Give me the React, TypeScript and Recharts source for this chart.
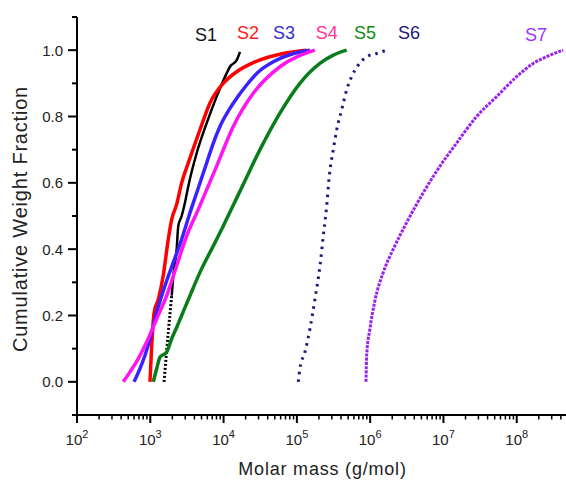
import React from 'react';
import { LineChart, Line, XAxis, YAxis, ReferenceDot } from 'recharts';

const FONT = '"Liberation Sans", Arial, Helvetica, sans-serif';

// S1 (black) – lower part sparse (dotted), upper part solid
const s1Mass = [1540, 1760, 1960, 2060, 2290, 2410, 2680, 2970, 3300, 4300, 5880, 8040, 11000, 12200, 15100, 16750];
const s1Frac = [0, 0.15, 0.26, 0.32, 0.4, 0.47, 0.5, 0.54, 0.59, 0.69, 0.78, 0.86, 0.93, 0.95, 0.97, 0.995];

const s2Mass = [990, 1040, 1130, 1290, 1500, 1760, 1960, 2290, 2680, 3300, 4760, 6500, 9900, 15100, 25200, 64600, 136000];
const s2Frac = [0, 0.1, 0.21, 0.25, 0.32, 0.43, 0.49, 0.535, 0.6, 0.66, 0.76, 0.84, 0.9, 0.935, 0.962, 0.99, 1.0];

const s3Mass = [600, 723, 847, 991, 1223, 1587, 2061, 2680, 3483, 4297, 5877, 7244, 8926, 13560, 20650, 30000, 47700, 90000, 151000];
const s3Frac = [0, 0.04, 0.08, 0.13, 0.21, 0.29, 0.36, 0.43, 0.51, 0.57, 0.66, 0.72, 0.77, 0.84, 0.895, 0.935, 0.965, 0.99, 1.0];

const s4Mass = [428, 529, 686, 893, 1223, 1674, 2291, 3139, 4520, 8035, 13560, 25400, 58700, 176000];
const s4Frac = [0, 0.03, 0.07, 0.12, 0.19, 0.26, 0.35, 0.44, 0.52, 0.65, 0.77, 0.87, 0.95, 1.0];

const s5Mass = [1099, 1223, 1355, 1674, 1958, 2291, 2680, 3483, 4760, 7244, 9910, 16750, 31400, 58700, 110000, 206000, 314000, 478000];
const s5Frac = [0, 0.04, 0.074, 0.09, 0.13, 0.164, 0.2, 0.26, 0.33, 0.41, 0.47, 0.575, 0.7, 0.81, 0.9, 0.96, 0.985, 1.0];

const s6Mass = [104500, 110000, 128900, 150900, 176600, 206700, 229300, 255100, 276700, 314000, 349300, 408600, 478000, 558700, 688000, 896000, 1227000, 1680000];
const s6Frac = [0, 0.04, 0.09, 0.16, 0.25, 0.35, 0.44, 0.53, 0.62, 0.7, 0.76, 0.82, 0.88, 0.92, 0.955, 0.98, 0.99, 1.0];

const s7Mass = [877000, 896000, 993000, 1162000, 1509000, 2066000, 3143000, 5295000, 8950000, 15130000, 28360000, 53170000, 99700000, 168000000, 283600000, 430600000];
const s7Frac = [0, 0.08, 0.16, 0.245, 0.33, 0.4, 0.48, 0.57, 0.65, 0.72, 0.8, 0.86, 0.92, 0.96, 0.985, 1.0];

const seriesNames = ['S1', 'S2', 'S3', 'S4', 'S5', 'S6', 'S7'];
const labelMass = [5750, 21500, 66700, 255000, 849000, 3380000, 183000000];
const labelFrac = [1.046, 1.052, 1.052, 1.052, 1.052, 1.052, 1.048];
const labelColors = ['#111111', '#ff1a1a', '#3030d0', '#ff3399', '#108a10', '#202080', '#9933ff'];

const xTicks = [100, 200, 300, 400, 500, 600, 700, 800, 900,
  1e3, 2e3, 3e3, 4e3, 5e3, 6e3, 7e3, 8e3, 9e3,
  1e4, 2e4, 3e4, 4e4, 5e4, 6e4, 7e4, 8e4, 9e4,
  1e5, 2e5, 3e5, 4e5, 5e5, 6e5, 7e5, 8e5, 9e5,
  1e6, 2e6, 3e6, 4e6, 5e6, 6e6, 7e6, 8e6, 9e6,
  1e7, 2e7, 3e7, 4e7, 5e7, 6e7, 7e7, 8e7, 9e7,
  1e8, 2e8, 3e8, 4e8];
const yTicks = [-0.1, 0, 0.1, 0.2, 0.3, 0.4, 0.5, 0.6, 0.7, 0.8, 0.9, 1.0, 1.1];

const toPoints = (m: number[], f: number[]) => m.map((v, i) => ({ m: v, f: f[i] }));

const s1Low = toPoints(s1Mass.slice(0, 3), s1Frac.slice(0, 3));
const s1High = toPoints(s1Mass.slice(2), s1Frac.slice(2));

const XTick = (props: any) => {
  const { x, y, payload } = props;
  const v = payload.value as number;
  const e = Math.log10(v);
  const major = Math.abs(e - Math.round(e)) < 1e-6;
  return (
    <g>
      <line x1={x} x2={x} y1={y} y2={y + (major ? 8 : 4.5)} stroke="#000" strokeWidth={major ? 2 : 1.5} />
      {major && (
        <text x={x} y={y + 30} textAnchor="middle" fontSize={15} fontFamily={FONT} fill="#222">
          10<tspan dy={-7} fontSize={11}>{Math.round(e)}</tspan>
        </text>
      )}
    </g>
  );
};

const YTick = (props: any) => {
  const { x, y, payload } = props;
  const v = payload.value as number;
  const major = Math.abs(v * 5 - Math.round(v * 5)) < 1e-6;
  return (
    <g>
      <line x1={x - (major ? 9 : 5)} x2={x} y1={y} y2={y} stroke="#000" strokeWidth={2} />
      {major && (
        <text x={x - 14} y={y} dy="0.36em" textAnchor="end" fontSize={15} fontFamily={FONT} fill="#222">
          {v.toFixed(1)}
        </text>
      )}
    </g>
  );
};

const YTitle = (props: any) => {
  const vb = props.viewBox || { x: 0, y: 17, width: 77, height: 398 };
  const cx = vb.x + 27;
  const cy = vb.y + vb.height / 2 + 3;
  return (
    <text x={cx} y={cy} transform={`rotate(-90 ${cx} ${cy})`} textAnchor="middle" fontSize={20}
      letterSpacing={0.8} fontFamily={FONT} fill="#222">
      Cumulative Weight Fraction
    </text>
  );
};

const XTitle = (props: any) => {
  const vb = props.viewBox || { x: 77, y: 415, width: 489, height: 65 };
  return (
    <text x={vb.x + vb.width / 2 + 1} y={vb.y + 60} textAnchor="middle" fontSize={18}
      letterSpacing={0.8} fontFamily={FONT} fill="#222">
      Molar mass (g/mol)
    </text>
  );
};

export default function App() {
  return (
    <div style={{ position: 'absolute', left: 0, top: 0, width: 566, height: 480, background: '#fff' }}>
      <LineChart width={566} height={480} margin={{ top: 17, right: 0, bottom: 0, left: 0 }}>
        <XAxis
          dataKey="m"
          type="number"
          scale="log"
          domain={[100, 4.7e8]}
          allowDataOverflow
          ticks={xTicks}
          interval={0}
          height={65}
          tickSize={0}
          tickMargin={0}
          tickLine={false}
          axisLine={{ stroke: '#000', strokeWidth: 2 }}
          tick={<XTick />}
          label={<XTitle />}
        />
        <YAxis
          dataKey="f"
          type="number"
          domain={[-0.1, 1.1]}
          allowDataOverflow
          ticks={yTicks}
          interval={0}
          width={77}
          tickSize={0}
          tickMargin={0}
          tickLine={false}
          axisLine={{ stroke: '#000', strokeWidth: 2 }}
          tick={<YTick />}
          label={<YTitle />}
        />
        <Line type="monotone" data={s1Low} dataKey="f" stroke="#000" strokeWidth={3} strokeDasharray="2 2" dot={false} isAnimationActive={false} />
        <Line type="monotone" data={s1High} dataKey="f" stroke="#000" strokeWidth={2.5} dot={false} isAnimationActive={false} />
        <Line type="monotone" data={toPoints(s2Mass, s2Frac)} dataKey="f" stroke="#ff0000" strokeWidth={3.5} dot={false} isAnimationActive={false} />
        <Line type="monotone" data={toPoints(s3Mass, s3Frac)} dataKey="f" stroke="#3a22ff" strokeWidth={3.5} dot={false} isAnimationActive={false} />
        <Line type="monotone" data={toPoints(s4Mass, s4Frac)} dataKey="f" stroke="#ff14f0" strokeWidth={3.5} dot={false} isAnimationActive={false} />
        <Line type="monotone" data={toPoints(s5Mass, s5Frac)} dataKey="f" stroke="#0a7d1a" strokeWidth={3.5} dot={false} isAnimationActive={false} />
        <Line type="monotone" data={toPoints(s6Mass, s6Frac)} dataKey="f" stroke="#1a1a78" strokeWidth={3} strokeDasharray="2.5 5" dot={false} isAnimationActive={false} />
        <Line type="monotone" data={toPoints(s7Mass, s7Frac)} dataKey="f" stroke="#9a22ee" strokeWidth={3} strokeDasharray="3 1.2" dot={false} isAnimationActive={false} />
        {seriesNames.map((n, i) => (
          <ReferenceDot
            key={n}
            x={labelMass[i]}
            y={labelFrac[i]}
            r={0}
            fill="none"
            stroke="none"
            ifOverflow="visible"
            label={{ value: n, position: 'center', fill: labelColors[i], fontSize: 18, fontFamily: FONT }}
          />
        ))}
      </LineChart>
    </div>
  );
}
